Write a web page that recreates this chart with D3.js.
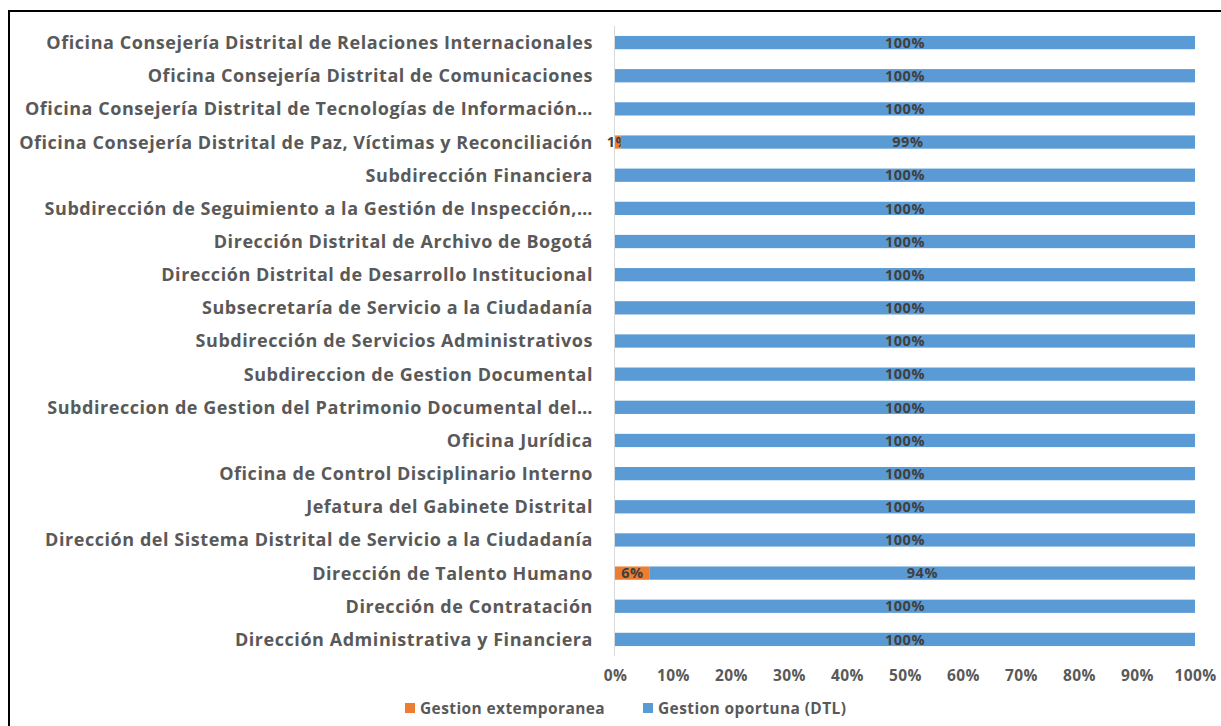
<!DOCTYPE html>
<html>
<head>
<meta charset="utf-8">
<script src="https://cdn.jsdelivr.net/npm/d3@7"></script>
<style>
  body { margin: 0; background: #fff; }
  text { font-family: "Open Sans", "DejaVu Sans", sans-serif; font-weight: bold; }
</style>
</head>
<body>
<svg></svg>
<script>
// categories listed top to bottom
var categories = [
  "Oficina Consejería Distrital de Relaciones Internacionales",
  "Oficina Consejería Distrital de Comunicaciones",
  "Oficina Consejería Distrital de Tecnologías de Información…",
  "Oficina Consejería Distrital de Paz, Víctimas y Reconciliación",
  "Subdirección Financiera",
  "Subdirección de Seguimiento a la Gestión de Inspección,…",
  "Dirección Distrital de Archivo de Bogotá",
  "Dirección Distrital de Desarrollo Institucional",
  "Subsecretaría de Servicio a la Ciudadanía",
  "Subdirección de Servicios Administrativos",
  "Subdireccion de Gestion Documental",
  "Subdireccion de Gestion del Patrimonio Documental del…",
  "Oficina Jurídica",
  "Oficina de Control Disciplinario Interno",
  "Jefatura del Gabinete Distrital",
  "Dirección del Sistema Distrital de Servicio a la Ciudadanía",
  "Dirección de Talento Humano",
  "Dirección de Contratación",
  "Dirección Administrativa y Financiera"
];
var extemporanea = [0, 0, 0, 1, 0, 0, 0, 0, 0, 0, 0, 0, 0, 0, 0, 0, 6, 0, 0];
var oportuna = [100, 100, 100, 99, 100, 100, 100, 100, 100, 100, 100, 100, 100, 100, 100, 100, 94, 100, 100];
var seriesNames = ["Gestion extemporanea", "Gestion oportuna (DTL)"];
var colors = ["#ED7D31", "#5B9BD5"];
var xTicks = [0, 10, 20, 30, 40, 50, 60, 70, 80, 90, 100];

var W = 1221, H = 726;
var margin = { left: 615, right: 26, top: 26, bottom: 70 };

var svg = d3.select("svg").attr("width", W).attr("height", H);

// outer frame
svg.append("rect")
  .attr("x", 9).attr("y", 11)
  .attr("width", W + 20).attr("height", H + 20)
  .attr("fill", "none").attr("stroke", "#000").attr("stroke-width", 2);

var x = d3.scaleLinear().domain([0, 100]).range([margin.left, W - margin.right]);
var y = d3.scaleBand().domain(categories).range([margin.top, H - margin.bottom]).paddingInner(0.6).paddingOuter(0.3);

var rows = categories.map(function (c, i) {
  return { cat: c, ext: extemporanea[i], op: oportuna[i] };
});
var stack = d3.stack().keys(["ext", "op"])(rows);

// y axis line
svg.append("line")
  .attr("x1", x(0) - 0.5).attr("x2", x(0) - 0.5)
  .attr("y1", margin.top).attr("y2", H - margin.bottom)
  .attr("stroke", "#d9d9d9").attr("stroke-width", 1);

var layers = svg.selectAll(".layer")
  .data(stack)
  .enter().append("g")
  .attr("fill", function (d, i) { return colors[i]; });

layers.selectAll("rect")
  .data(function (d) { return d; })
  .enter().append("rect")
  .attr("x", function (d) { return x(d[0]); })
  .attr("width", function (d) { return x(d[1]) - x(d[0]); })
  .attr("y", function (d) { return y(d.data.cat); })
  .attr("height", y.bandwidth());

// data labels
layers.selectAll("text")
  .data(function (d) { return d.filter(function (p) { return p[1] - p[0] > 0; }); })
  .enter().append("text")
  .attr("x", function (d) { return (x(d[0]) + x(d[1])) / 2; })
  .attr("y", function (d) { return y(d.data.cat) + y.bandwidth() / 2; })
  .attr("dy", "0.36em")
  .attr("text-anchor", "middle")
  .attr("font-size", 14.5)
  .attr("letter-spacing", 0.5)
  .attr("fill", "#404040")
  .text(function (d) { return Math.round(d[1] - d[0]) + "%"; });

// category labels
svg.append("g")
  .attr("transform", "translate(" + (margin.left - 22) + ",0)")
  .selectAll("text")
  .data(categories)
  .enter().append("text")
  .attr("x", 0)
  .attr("y", function (d) { return y(d) + y.bandwidth() / 2; })
  .attr("dy", "0.36em")
  .attr("text-anchor", "end")
  .attr("font-size", 18)
  .attr("letter-spacing", 0.55)
  .attr("fill", "#595959")
  .text(function (d) { return d; });

// x axis
var xAxis = svg.append("g")
  .attr("transform", "translate(0," + (H - margin.bottom) + ")")
  .call(d3.axisBottom(x).tickValues(xTicks).tickSize(0).tickPadding(14).tickFormat(function (d) { return d + "%"; }));
xAxis.select(".domain").remove();
xAxis.selectAll("text")
  .attr("font-size", 15.5)
  .attr("letter-spacing", 0.4)
  .attr("fill", "#595959")
  .attr("font-family", null);

// legend
var legend = svg.append("g").attr("transform", "translate(0,708)");
var legX = [405, 643];
seriesNames.forEach(function (n, i) {
  legend.append("rect")
    .attr("x", legX[i]).attr("y", -5)
    .attr("width", 10).attr("height", 10)
    .attr("fill", colors[i]);
  legend.append("text")
    .attr("x", legX[i] + 15).attr("y", 0)
    .attr("dy", "0.36em")
    .attr("font-size", 15.5)
    .attr("letter-spacing", 0.4)
    .attr("fill", "#595959")
    .text(n);
});
</script>
</body>
</html>
